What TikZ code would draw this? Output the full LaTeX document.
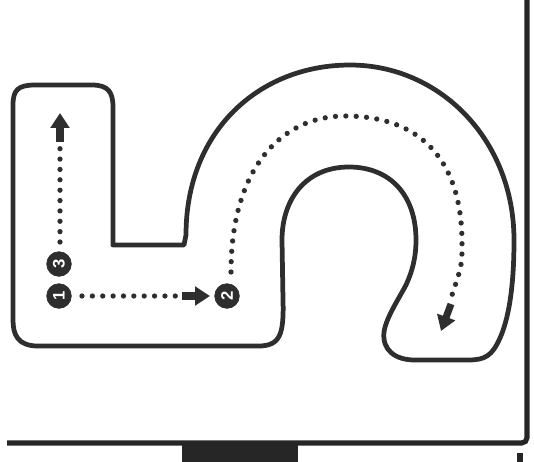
\documentclass[tikz,border=0pt]{standalone}
\usepackage{fontspec}
\setsansfont{Liberation Sans}
\usetikzlibrary{arrows.meta}

\begin{document}
\begin{tikzpicture}[x=0.02cm, y=-0.02cm,
    track/.style={draw=black!82, line width=2.7pt, line join=round},
    dotline/.style={draw=black!82, line width=3pt, line cap=round, dash pattern=on 0pt off 5.9pt},
    bigarrow/.style={draw=black!82, line width=4pt, -{Triangle[length=8.5pt, width=10.5pt]}},
    stop/.style={circle, fill=black!82, draw=black!82, minimum size=14pt, inner sep=0pt,
        text=white, font=\sffamily\bfseries\fontsize{9.5}{9.5}\selectfont}]
    \useasboundingbox (0,0) rectangle (534,461);

    % Frame: right wall and floor
    \draw[black!85, line width=2.9pt, rounded corners=3pt] (7,443) -- (527,443) -- (527,-5);
    \fill[black!85] (182,443) rectangle (298,465);
    \fill[black!85] (517,453) rectangle (523,465);

    % Track outline
    \draw[track] (13,105) .. controls (13,90) and (18,85) .. (35,85) -- (92,85)
        .. controls (108,85) and (113,92) .. (113,107) -- (113,245) -- (184,245) -- (186,235)
        .. controls (186,130) and (260,65) .. (350,65)
        .. controls (440,65) and (514,140) .. (514,240)
        .. controls (514,290) and (508,320) .. (500,338)
        .. controls (492,356) and (485,360) .. (468,360) -- (415,360)
        .. controls (395,360) and (382,350) .. (384,332)
        .. controls (386,318) and (398,300) .. (406,285)
        .. controls (412,272) and (416,258) .. (416,240)
        .. controls (416,195) and (390,167) .. (349,167)
        .. controls (305,167) and (282,200) .. (282,240) -- (283,300)
        .. controls (284,335) and (280,346) .. (258,346) -- (38,346)
        .. controls (18,346) and (13,335) .. (13,320) -- cycle;

    % Stops
    \node[stop, rotate=90] (c1) at (59,296) {1};
    \node[stop, rotate=90] (c3) at (59,264) {3};
    \node[stop, rotate=90] (c2) at (227,296) {2};

    % Leg 1 -> 2
    \draw[dotline] (c1) ++(23,0) -- ++(95,0);
    \draw[bigarrow, shorten >=2.5pt] (c1) ++(123,0) -- (c2);

    % Leg 2: round the bend
    \coordinate (finish) at (441,331);
    \draw[dotline] (c2) ++(4,-24) .. controls (231,170) and (280,116) .. (345,116)
        .. controls (425,116) and (462,165) .. (462,243)
        .. controls (462,265) .. (452,295);
    \draw[bigarrow] (451,304) -- (finish);

    % Leg 3: back up the left arm
    \coordinate (top) at (60,113);
    \draw[dotline] (c3) ++(1,-22) -- ++(0,-94);
    \draw[bigarrow] (60,142) -- (top);
\end{tikzpicture}
\end{document}
